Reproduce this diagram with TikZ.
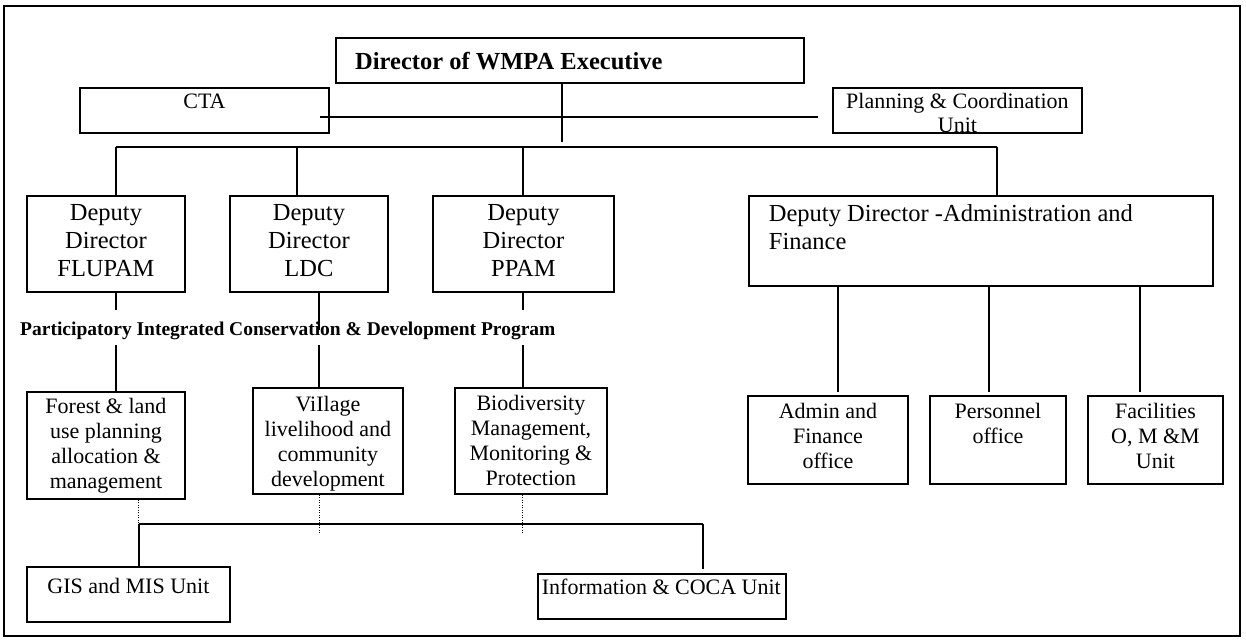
\documentclass[tikz,border=0pt]{standalone}
\usepackage{fontspec}
\setmainfont{Liberation Serif}
\newcommand\fdep{\fontsize{24.5pt}{28.3pt}\selectfont}
\newcommand\fsm{\fontsize{22pt}{25pt}\selectfont}
\newcommand\fplan{\fontsize{22pt}{23.7pt}\selectfont}
\newcommand\fdir{\fontsize{24.5pt}{28pt}\selectfont\bfseries}
\newcommand\fpic{\fontsize{19.5pt}{22pt}\selectfont\bfseries}
\tikzset{
  box/.style={draw, line width=1.9pt, inner sep=0pt, anchor=north west},
  lbl/.style={inner sep=0pt, align=center, anchor=north},
  lbll/.style={inner sep=0pt, align=left, anchor=north west},
  conn/.style={line width=1.8pt},
  dots/.style={line width=1.1pt, dash pattern=on 1pt off 1.5pt},
}
\begin{document}
\begin{tikzpicture}[x=1pt,y=-1pt]
\useasboundingbox (0,0) rectangle (1246,641);
\draw[line width=1.6pt] (4,6) rectangle (1240,636);

% top level
\node[box, minimum width=468pt, minimum height=45pt,
  label={[lbll, font=\fdir, xshift=20pt, yshift=-15pt]north west:{Director of WMPA Executive}}] (director) at (335,37) {};
\node[box, minimum width=249pt, minimum height=45pt,
  label={[lbl, font=\fsm, yshift=-6.6pt]north:{CTA}}] (cta) at (79,87) {};
\node[box, minimum width=249pt, minimum height=45pt] (plan) at (832,87) {};
\begin{scope}
  \clip (plan.south west) rectangle (plan.north east);
  \node[lbl, font=\fplan] (plantxt) at ([yshift=-6pt]plan.north) {Planning \& Coordination\\Unit};
\end{scope}

% deputy level
\node[box, minimum width=158pt, minimum height=96pt,
  label={[lbl, font=\fdep, yshift=-8.8pt]north:{Deputy\\Director\\FLUPAM}}] (flupam) at (26,195) {};
\node[box, minimum width=158pt, minimum height=96pt,
  label={[lbl, font=\fdep, yshift=-8.8pt]north:{Deputy\\Director\\LDC}}] (ldc) at (229,195) {};
\node[box, minimum width=181pt, minimum height=96pt,
  label={[lbl, font=\fdep, yshift=-8.8pt]north:{Deputy\\Director\\PPAM}}] (ppam) at (432,195) {};
\node[box, minimum width=464pt, minimum height=90pt,
  label={[lbll, font=\fdep, xshift=20.7pt, yshift=-8.8pt]north west:{Deputy Director -Administration and\\Finance}}] (ddaf) at (748,195) {};

% program label
\node[inner sep=0pt, anchor=base west, font=\fpic] (picdp) at (20,335) {Participatory Integrated Conservation \& Development Program};

% third level
\node[box, minimum width=158pt, minimum height=107pt,
  label={[lbl, font=\fsm, yshift=-7.3pt]north:{Forest \& land\\use planning\\allocation \&\\management}}] (forest) at (26,391) {};
\node[box, minimum width=150pt, minimum height=106pt,
  label={[lbl, font=\fsm, yshift=-9pt]north:{ViIlage\\livelihood and\\community\\development}}] (village) at (252,387) {};
\node[box, minimum width=152pt, minimum height=106pt,
  label={[lbl, font=\fsm, yshift=-8.5pt]north:{Biodiversity\\Management,\\Monitoring \&\\Protection}}] (bio) at (454,387) {};

% admin sub-units
\node[box, minimum width=160pt, minimum height=88pt,
  label={[lbl, font=\fsm, yshift=-8.3pt]north:{Admin and\\Finance\\office}}] (adminoff) at (747,395) {};
\node[box, minimum width=136pt, minimum height=88pt,
  label={[lbl, font=\fsm, yshift=-8.3pt]north:{Personnel\\office}}] (personnel) at (929,395) {};
\node[box, minimum width=135pt, minimum height=88pt,
  label={[lbl, font=\fsm, yshift=-8.3pt]north:{Facilities\\O, M \&M\\Unit}}] (facilities) at (1087,395) {};

% bottom units
\node[box, minimum width=203pt, minimum height=55pt,
  label={[lbl, font=\fsm, yshift=-12pt]north:{GIS and MIS Unit}}] (gis) at (26,566) {};
\node[box, minimum width=248pt, minimum height=45pt,
  label={[lbll, font=\fsm, xshift=4.7pt, yshift=-5.3pt]north west:{Information \& COCA Unit}}] (info) at (537,573) {};

% connectors: top
\coordinate (dirdown) at (562,142);
\coordinate (busL) at (116,147);
\coordinate (bus2) at (297,147);
\coordinate (bus3) at (523,147);
\coordinate (busR) at (997,147);
\coordinate (ctaIn) at (320,117);
\coordinate (planOut) at (818,117);
\draw[conn] (ctaIn) -- (planOut);
\draw[conn] (dirdown |- director.south) -- (dirdown);
\draw[conn] (busL) -- (busR);
\draw[conn] (busL) -- (busL |- flupam.north);
\draw[conn] (bus2) -- (bus2 |- ldc.north);
\draw[conn] (bus3) -- (bus3 |- ppam.north);
\draw[conn] (busR) -- (busR |- ddaf.north);

% connectors: deputy to third level
\coordinate (f1) at (116,310);
\coordinate (f2) at (116,345);
\coordinate (l1) at (319.3,330);
\coordinate (l2) at (319.3,345);
\coordinate (pp1) at (522.7,310);
\coordinate (pp2) at (522.7,345);
\draw[conn] (f1 |- flupam.south) -- (f1);
\draw[conn] (f2) -- (f2 |- forest.north);
\draw[conn] (l1 |- ldc.south) -- (l1);
\draw[conn] (l2) -- (l2 |- village.north);
\draw[conn] (pp1 |- ppam.south) -- (pp1);
\draw[conn] (pp2) -- (pp2 |- bio.north);

% admin sub connectors
\coordinate (s1) at (838.3,285);
\coordinate (s2) at (988.7,285);
\coordinate (s3) at (1140,285);
\draw[conn, shorten >=3pt] (s1 |- ddaf.south) -- (s1 |- adminoff.north);
\draw[conn, shorten >=3pt] (s2 |- ddaf.south) -- (s2 |- personnel.north);
\draw[conn, shorten >=3pt] (s3 |- ddaf.south) -- (s3 |- facilities.north);

% lower bus
\coordinate (lbusL) at (138.7,524);
\coordinate (lbusR) at (703,524);
\coordinate (dv) at (319.3,533);
\coordinate (db) at (522.7,534);
\draw[dots] (lbusL |- forest.south) -- (lbusL);
\draw[dots] (dv |- village.south) -- (dv);
\draw[dots] (db |- bio.south) -- (db);
\draw[conn] (lbusL) -- (lbusR);
\draw[conn] (lbusL) -- (lbusL |- gis.north);
\draw[conn, shorten >=4pt] (lbusR) -- (lbusR |- info.north);
\end{tikzpicture}
\end{document}
